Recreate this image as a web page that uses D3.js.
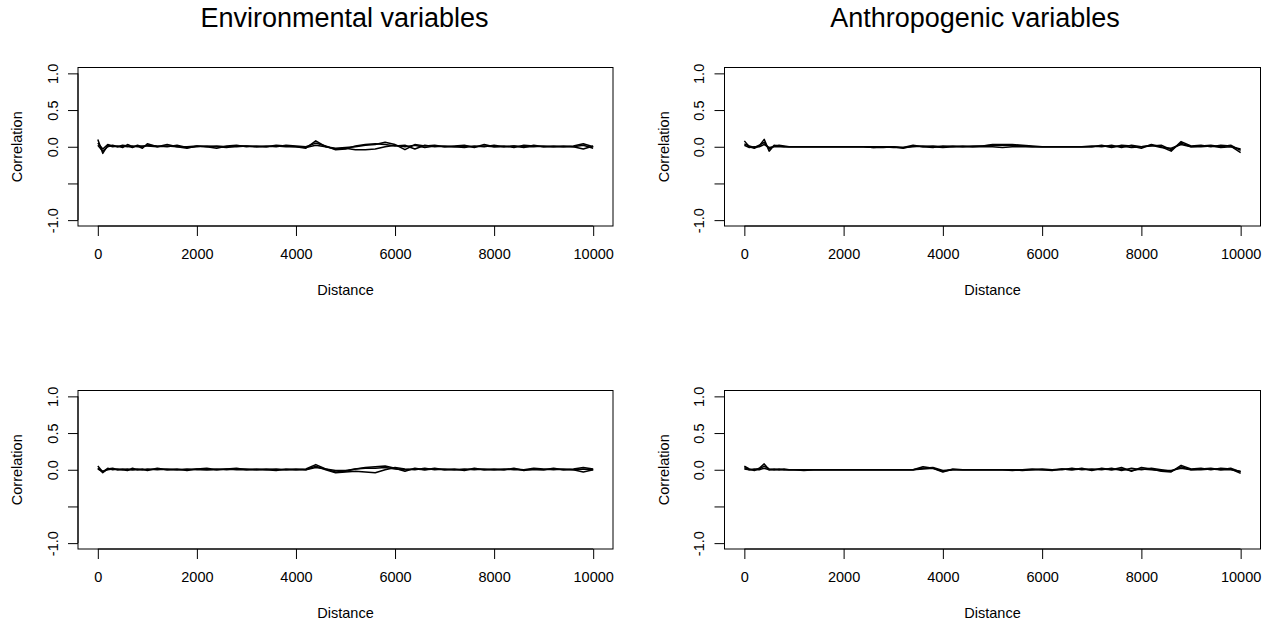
<!DOCTYPE html>
<html><head><meta charset="utf-8">
<script src="https://cdn.jsdelivr.net/npm/d3@7"></script>
<style>
html,body{margin:0;padding:0;background:#fff;}
svg{display:block;font-family:"Liberation Sans",Arial,sans-serif;}
</style></head>
<body>
<svg id="c" width="1268" height="624"></svg>
<script>
// ---- data ----
const distances = [0,100,200,300,400,500,600,700,800,900,
  1000,1200,1400,1600,1800,2000,2200,2400,2600,2800,
  3000,3200,3400,3600,3800,4000,4200,4400,4600,4800,
  5000,5200,5400,5600,5800,6000,6200,6400,6600,6800,
  7000,7200,7400,7600,7800,8000,8200,8400,8600,8800,
  9000,9200,9400,9600,9800,10000];
const xTicks = [0,2000,4000,6000,8000,10000];
const yTicks = [-1,-0.5,0,0.5,1];
const yTickLabels = ["-1.0","","0.0","0.5","1.0"];
const columnTitles = ["Environmental variables","Anthropogenic variables"];

// top-left: environmental
const envTopA = [0.10,-0.09,0.02,0.00,0.01,-0.01,0.03,0.00,0.01,-0.02,
  0.04,0.00,0.03,0.00,-0.02,0.01,0.00,-0.02,0.01,0.02,
  0.00,0.01,0.00,0.02,0.01,0.00,-0.02,0.08,0.00,-0.02,
  -0.01,0.00,0.02,0.03,0.06,0.03,-0.04,0.03,0.01,0.02,
  0.00,0.01,0.02,-0.01,0.03,0.00,0.01,-0.01,0.02,0.01,
  0.00,0.01,0.00,0.01,0.04,0.00];
const envTopB = [0.05,-0.03,0.03,0.01,0.00,0.02,0.01,-0.01,0.02,0.00,
  0.02,0.01,0.00,0.02,-0.01,0.00,0.01,0.00,-0.01,0.01,
  0.01,0.00,0.01,0.00,0.02,0.01,0.00,0.05,0.01,-0.04,
  -0.03,0.01,0.03,0.04,0.03,0.01,0.02,-0.03,0.02,0.00,
  0.01,0.00,-0.01,0.01,0.00,0.02,0.00,0.01,-0.01,0.02,
  0.00,0.00,0.01,0.00,-0.03,0.01];
const envTopC = [0.02,-0.06,0.00,0.02,0.00,0.01,0.00,0.01,0.00,0.01,
  0.01,0.00,0.01,0.00,0.00,0.01,0.00,0.01,0.00,0.00,
  0.01,0.00,0.00,0.01,0.00,0.00,-0.01,0.02,0.00,-0.03,
  -0.02,-0.04,-0.04,-0.03,0.00,0.02,0.00,0.02,-0.01,0.01,
  0.00,0.00,0.01,0.00,0.01,0.00,0.00,0.01,0.00,0.00,
  0.01,0.00,0.00,0.00,0.02,-0.02];

// top-right: anthropogenic
const antTopA = [0.08,0.00,-0.02,0.01,0.10,-0.06,0.02,0.01,0.00,0.00,
  0.00,0.00,0.00,0.00,0.00,0.00,0.00,0.00,-0.01,0.00,
  0.00,-0.02,0.01,0.00,-0.01,0.01,0.00,0.01,0.00,0.01,
  0.02,0.02,0.02,0.01,0.00,0.00,0.00,0.00,0.00,0.00,
  0.00,0.02,-0.01,0.02,0.01,-0.02,0.03,0.00,-0.06,0.07,
  0.01,0.02,0.00,0.02,0.01,-0.08];
const antTopB = [0.04,0.01,-0.01,0.02,0.06,-0.03,0.01,0.02,0.01,0.00,
  0.00,0.00,0.00,0.00,0.00,0.00,0.00,0.00,0.00,0.00,
  -0.01,-0.01,0.02,0.00,0.01,0.00,0.01,0.00,0.01,0.01,
  0.03,0.03,0.03,0.02,0.01,0.00,0.00,0.00,0.00,0.00,
  0.01,0.00,0.02,-0.01,0.02,0.00,0.01,0.02,-0.04,0.05,
  0.00,0.01,0.02,0.00,0.02,-0.05];
const antTopC = [0.02,-0.01,0.00,0.00,0.03,-0.01,0.00,0.00,0.00,0.00,
  0.00,0.00,0.00,0.00,0.00,0.00,0.00,0.00,-0.01,-0.01,
  0.00,-0.01,0.00,0.01,0.00,-0.01,0.00,0.00,0.00,0.00,
  0.00,-0.01,0.00,0.00,0.00,0.00,0.00,0.00,0.00,0.00,
  0.00,0.01,0.00,0.01,-0.01,0.00,0.02,-0.01,-0.02,0.03,
  0.00,0.00,0.01,-0.01,0.00,-0.03];

// bottom-left: environmental
const envBotA = [0.05,-0.03,0.02,0.00,0.01,0.00,-0.01,0.02,0.00,0.01,
  -0.01,0.02,0.00,0.01,-0.01,0.01,0.02,0.00,0.01,0.02,
  0.00,0.01,0.00,-0.01,0.01,0.00,0.01,0.07,0.01,-0.03,
  -0.02,0.01,0.03,0.04,0.05,0.02,-0.02,0.02,0.00,0.02,
  0.00,0.01,-0.01,0.02,0.00,0.01,0.00,0.02,-0.01,0.01,
  0.00,0.02,0.00,0.01,0.03,0.01];
const envBotB = [0.02,-0.04,0.01,0.02,0.00,0.01,0.00,0.00,0.01,0.00,
  0.01,0.00,0.01,0.00,0.00,0.01,0.00,0.01,0.00,0.01,
  0.01,0.00,0.01,0.00,0.00,0.01,0.00,0.05,0.00,-0.04,
  -0.03,-0.02,-0.03,-0.04,0.00,0.03,0.01,0.00,0.02,0.00,
  0.01,0.00,0.01,0.00,0.01,0.00,0.01,0.00,0.00,0.02,
  0.01,0.00,0.01,0.00,-0.03,0.00];
const envBotC = [0.01,-0.02,0.00,0.01,0.00,0.00,0.01,0.00,0.00,0.00,
  0.00,0.01,0.00,0.00,0.01,0.00,0.00,0.00,0.01,0.00,
  0.00,0.00,0.00,0.01,0.00,0.00,0.00,0.03,0.01,-0.01,
  -0.01,0.01,0.02,0.02,0.03,0.01,0.00,0.01,0.00,0.01,
  0.00,0.00,0.00,0.01,0.00,0.00,0.00,0.01,0.00,0.00,
  0.00,0.01,0.00,0.00,0.01,0.00];

// bottom-right: anthropogenic
const antBotA = [0.05,0.01,-0.01,0.02,0.08,0.00,0.01,0.00,0.01,0.00,
  0.00,-0.01,0.00,0.00,0.00,0.00,0.00,0.00,0.00,0.00,
  0.00,0.00,0.00,0.04,0.02,-0.03,0.01,0.00,0.00,0.00,
  0.00,0.00,-0.01,0.00,0.01,0.00,-0.01,0.01,0.00,0.02,
  -0.01,0.02,0.00,0.03,-0.02,0.03,0.01,-0.02,-0.03,0.06,
  0.01,0.02,0.00,0.02,0.01,-0.05];
const antBotB = [0.03,0.00,0.01,0.01,0.05,0.01,0.00,0.01,0.00,0.00,
  0.00,0.00,0.00,0.00,0.00,0.00,0.00,0.00,0.00,0.00,
  0.00,0.00,0.00,0.02,0.03,-0.01,0.00,0.00,0.00,0.00,
  0.00,0.00,0.00,-0.01,0.00,0.01,0.00,0.00,0.02,0.00,
  0.01,0.00,0.02,-0.01,0.02,0.00,0.02,0.00,-0.02,0.04,
  0.00,0.01,0.02,0.00,0.02,-0.03];
const antBotC = [0.01,0.00,0.00,0.00,0.02,0.00,0.00,0.00,0.00,0.00,
  0.00,0.00,0.00,0.00,0.00,0.00,0.00,0.00,0.00,0.00,
  0.00,0.00,0.00,0.01,0.02,-0.02,0.00,0.00,0.00,0.00,
  0.00,0.00,0.00,0.00,0.00,0.00,0.00,0.01,0.00,0.01,
  0.00,0.01,0.00,0.01,-0.01,0.01,0.00,-0.01,-0.01,0.02,
  0.00,0.00,0.01,0.00,0.00,-0.02];

// ---- layout ----
const panels = [
  {left:78, right:613, top:67.5, bottom:226, series:[envTopA,envTopB,envTopC]},
  {left:724.5, right:1260.5, top:67.5, bottom:226, series:[antTopA,antTopB,antTopC]},
  {left:78, right:613, top:390.5, bottom:549, series:[envBotA,envBotB,envBotC]},
  {left:724.5, right:1260.5, top:390.5, bottom:549, series:[antBotA,antBotB,antBotC]}
];
const titleX = [344.5, 975];
const FS = 14.5;

const svg = d3.select("#c");
svg.append("rect").attr("width",1268).attr("height",624).attr("fill","#fff");

columnTitles.forEach((t,i)=>{
  svg.append("text").attr("x",titleX[i]).attr("y",27)
    .attr("text-anchor","middle").attr("font-size",27).attr("fill","#000").text(t);
});

panels.forEach(p=>{
  const x = d3.scaleLinear().domain([-400,10400]).range([p.left,p.right]);
  const y = d3.scaleLinear().domain([-1.08,1.08]).range([p.bottom,p.top]);
  const g = svg.append("g");

  // lines
  const line = d3.line().x((d,i)=>x(distances[i])).y(d=>y(d));
  p.series.forEach(s=>{
    g.append("path").datum(s).attr("d",line)
      .attr("fill","none").attr("stroke","#000").attr("stroke-width",1.5)
      .attr("stroke-linejoin","round");
  });

  // box
  g.append("rect").attr("x",p.left).attr("y",p.top)
    .attr("width",p.right-p.left).attr("height",p.bottom-p.top)
    .attr("fill","none").attr("stroke","#000").attr("stroke-width",1);

  // x axis
  const xa = g.append("g").attr("transform",`translate(0,${p.bottom})`)
    .call(d3.axisBottom(x).tickValues(xTicks).tickSize(10).tickFormat(d3.format("d")));
  xa.select(".domain").remove();
  xa.append("line").attr("x1",x(xTicks[0])).attr("x2",x(xTicks[xTicks.length-1]))
    .attr("y1",0).attr("y2",0).attr("stroke","#000");
  xa.selectAll(".tick line").attr("stroke","#000");
  xa.selectAll(".tick text").attr("y",33).attr("dy",null)
    .attr("font-size",FS).attr("font-family","Liberation Sans, Arial, sans-serif").attr("fill","#000");

  // y axis
  const ya = g.append("g").attr("transform",`translate(${p.left},0)`)
    .call(d3.axisLeft(y).tickValues(yTicks).tickSize(10).tickFormat((d,i)=>yTickLabels[i]));
  ya.select(".domain").remove();
  ya.append("line").attr("x1",0).attr("x2",0)
    .attr("y1",y(yTicks[0])).attr("y2",y(yTicks[yTicks.length-1])).attr("stroke","#000");
  ya.selectAll(".tick line").attr("stroke","#000");
  ya.selectAll(".tick text").attr("x",null).attr("dy",null)
    .attr("transform","translate(-20.5,0) rotate(-90)")
    .attr("text-anchor","middle")
    .attr("font-size",FS).attr("font-family","Liberation Sans, Arial, sans-serif").attr("fill","#000");

  // axis titles
  svg.append("text").attr("x",(p.left+p.right)/2).attr("y",p.bottom+69)
    .attr("text-anchor","middle").attr("font-size",FS).attr("fill","#000").text("Distance");
  svg.append("text").attr("transform",`translate(${p.left-56},${(p.top+p.bottom)/2}) rotate(-90)`)
    .attr("text-anchor","middle").attr("font-size",FS).attr("fill","#000").text("Correlation");
});
</script>
</body></html>
